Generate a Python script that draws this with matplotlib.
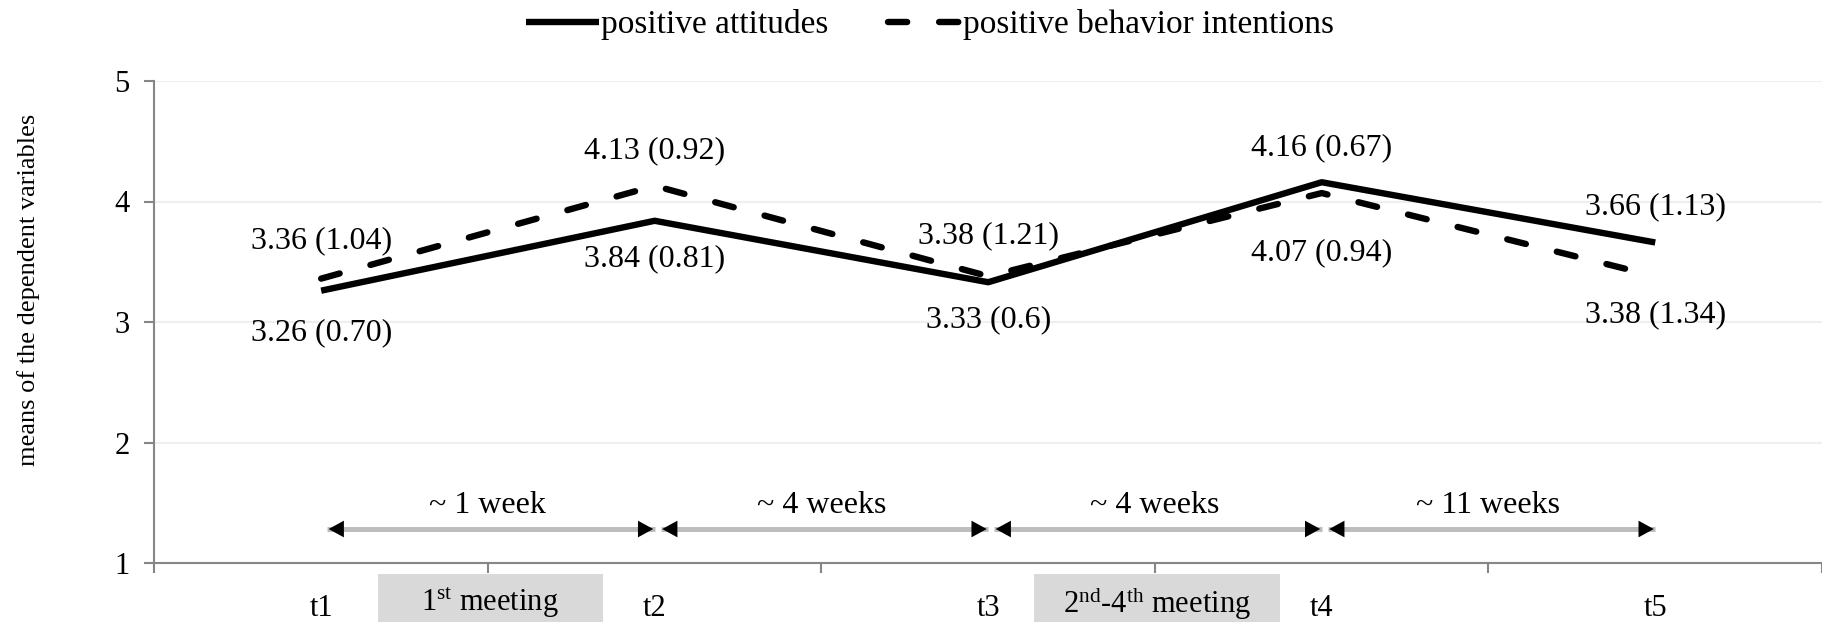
import matplotlib
matplotlib.use("Agg")
import matplotlib.pyplot as plt
from matplotlib.patches import Rectangle
import matplotlib.transforms as mtransforms

plt.rcParams["font.family"] = ["Liberation Serif", "DejaVu Serif"]
plt.rcParams["mathtext.fontset"] = "custom"
plt.rcParams["mathtext.rm"] = "Liberation Serif"
plt.rcParams["mathtext.it"] = "Liberation Serif:italic"

# data
times = ["t1", "t2", "t3", "t4", "t5"]
attitudes = [3.26, 3.84, 3.33, 4.16, 3.66]
attitudes_sd = ["0.70", "0.81", "0.6", "0.67", "1.13"]
intentions = [3.36, 4.13, 3.38, 4.07, 3.38]
intentions_sd = ["1.04", "0.92", "1.21", "0.94", "1.34"]
intervals = ["~ 1 week", "~ 4 weeks", "~ 4 weeks", "~ 11 weeks"]
meetings = ["1$^{\\mathrm{st}}$ meeting", "2$^{\\mathrm{nd}}$-4$^{\\mathrm{th}}$ meeting"]

# label offsets in points (positive = above the point)
att_off = [-30, -27, -27, 25, 26]
int_off = [27, 25, 29, -43, -28]

W, H = 1822, 622
fig = plt.figure(figsize=(W / 100, H / 100), dpi=100)
ax = fig.add_axes([154.4 / W, (H - 563) / H, (W - 154.4) / W, 482 / H])

x = list(range(len(times)))
grey = "#868686"

for yv in [2, 3, 4, 5]:
    ax.axhline(yv, color="#efefef", lw=1.5, zorder=0)

ax.plot(x, attitudes, color="black", lw=4.6, solid_capstyle="butt",
        label="positive attitudes", zorder=3)
ax.plot(x, intentions, color="black", lw=4.6, ls=(0, (3, 5)),
        dash_capstyle="round", label="positive behavior intentions", zorder=3)

for i in x:
    ax.annotate(f"{attitudes[i]:.2f} ({attitudes_sd[i]})", (i, attitudes[i]),
                xytext=(0, att_off[i]), textcoords="offset points",
                ha="center", va="center", fontsize=23)
    ax.annotate(f"{intentions[i]:.2f} ({intentions_sd[i]})", (i, intentions[i]),
                xytext=(0, int_off[i]), textcoords="offset points",
                ha="center", va="center", fontsize=23)

# interval arrows
arrow_y = 1.282
gap = 0.018
for i, lab in enumerate(intervals):
    ax.plot([i + gap, i + 1], [arrow_y, arrow_y], color="#bdbdbd", lw=3.6,
            solid_capstyle="butt", zorder=2)
    ax.annotate("", xy=(i + 1, arrow_y), xytext=(i + gap, arrow_y),
                arrowprops=dict(arrowstyle="<|-|>,head_length=0.55,head_width=0.3",
                                fc="black", ec="none", shrinkA=0, shrinkB=0,
                                mutation_scale=20), zorder=3)
    ax.text(i + 0.5, 1.48, lab, ha="center", va="center", fontsize=23)

# meeting boxes below the axis
trans = mtransforms.blended_transform_factory(ax.transData, ax.transAxes)
box_spans = [(0.17, 0.844), (2.136, 2.875)]
for (x0, x1), lab in zip(box_spans, meetings):
    ax.add_patch(Rectangle((x0, -0.13), x1 - x0, 0.107, transform=trans,
                           facecolor="#d9d9d9", edgecolor="none", clip_on=False))
    ax.text((x0 + x1) / 2, -0.083, lab, transform=trans, ha="center",
            va="center", fontsize=22)

ax.set_xlim(-0.5, 4.475)
ax.set_ylim(1, 5)
ax.set_yticks([1, 2, 3, 4, 5])
ax.set_xticks([-0.5, 0.5, 1.5, 2.5, 3.5, 4.5])
ax.set_xticklabels([])
ax.set_xticks(x, minor=True)
ax.set_xticklabels(times, minor=True, fontsize=22)
ax.tick_params(axis="x", which="major", length=7, width=1.5, color=grey, direction="out")
ax.tick_params(axis="x", which="minor", length=0, pad=22)
ax.tick_params(axis="y", length=7, width=1.5, color=grey, direction="out",
               labelsize=22, pad=11)

for s in ["top", "right"]:
    ax.spines[s].set_visible(False)
for s in ["left", "bottom"]:
    ax.spines[s].set_color(grey)
    ax.spines[s].set_linewidth(1.5)

fig.text(29 / W, 1 - 290 / H, "means of the dependent variables", rotation=90,
         ha="center", va="center", fontsize=19)

fig.legend(loc="center", bbox_to_anchor=(930 / W, 1 - 25 / H), ncol=2,
           frameon=False, fontsize=24, handlelength=2.2, handletextpad=0.05,
           columnspacing=1.8)

fig.savefig("out.png", dpi=100)
